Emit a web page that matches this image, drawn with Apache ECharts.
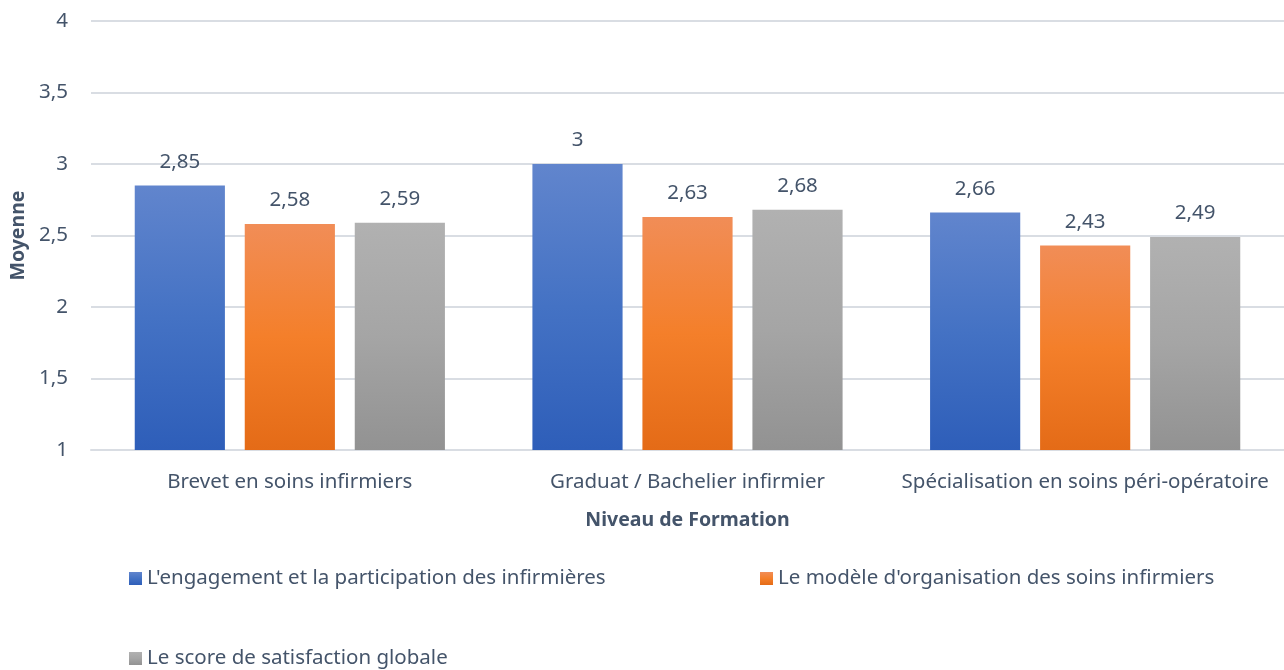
<!DOCTYPE html>
<html>
<head>
<meta charset="utf-8">
<script src="https://cdn.jsdelivr.net/npm/echarts@6/dist/echarts.min.js"></script>
<style>
  html, body { margin: 0; padding: 0; background: #fff; }
  #chart { width: 1284px; height: 670px; }
</style>
</head>
<body>
<div id="chart"></div>
<script>
// Niveaux de formation (catégories de l'axe X)
const categories = [
  'Brevet en soins infirmiers',
  'Graduat / Bachelier infirmier',
  'Spécialisation en soins péri-opératoire'
];
const seriesNames = [
  "L'engagement et la participation des infirmières",
  "Le modèle d'organisation des soins infirmiers",
  'Le score de satisfaction globale'
];
// Moyennes par série
const engagement = [2.85, 3, 2.66];
const organisation = [2.58, 2.63, 2.43];
const satisfaction = [2.59, 2.68, 2.49];

const textColor = '#44546A';
const font = 'Noto Sans';
const fs = 20.5;

function grad(top, mid, bottom) {
  return new echarts.graphic.LinearGradient(0, 0, 0, 1, [
    { offset: 0, color: top },
    { offset: 0.5, color: mid },
    { offset: 1, color: bottom }
  ]);
}
const colors = [
  grad('#6185CD', '#4472C4', '#2E5EB9'),
  grad('#F18D57', '#F47F2A', '#E46B17'),
  grad('#B1B1B1', '#A5A5A5', '#929292')
];

const fmt = v => String(v).replace('.', ',');

function barSeries(name, data, color) {
  return {
    name: name,
    type: 'bar',
    data: data,
    itemStyle: { color: color },
    barGap: '22%',
    barCategoryGap: '22%',
    label: {
      show: true,
      position: 'top',
      distance: 13,
      color: textColor,
      fontFamily: font,
      fontSize: fs,
      formatter: p => fmt(p.value)
    }
  };
}

const legendBase = {
  orient: 'horizontal',
  icon: 'rect',
  itemWidth: 13,
  itemHeight: 13,
  itemGap: 6,
  textStyle: { color: textColor, fontFamily: font, fontSize: fs }
};

const chart = echarts.init(document.getElementById('chart'), null, { renderer: 'canvas' });
chart.setOption({
  backgroundColor: '#ffffff',
  animation: false,
  grid: { left: 91, right: 0, top: 21, bottom: 220, containLabel: false },
  legend: [
    Object.assign({}, legendBase, { data: [seriesNames[0]], left: 124, top: 563 }),
    Object.assign({}, legendBase, { data: [seriesNames[1]], left: 755, top: 563 }),
    Object.assign({}, legendBase, { data: [seriesNames[2]], left: 124, top: 643 })
  ],
  xAxis: {
    type: 'category',
    data: categories,
    name: 'Niveau de Formation',
    nameLocation: 'middle',
    nameGap: 60,
    nameTextStyle: { color: textColor, fontFamily: font, fontSize: 19.5, fontWeight: 'bold' },
    axisLine: { show: true, lineStyle: { color: '#D9DDE3', width: 2 } },
    axisTick: { show: false },
    axisLabel: {
      color: textColor, fontFamily: font, fontSize: fs, margin: 22,
      interval: 0, hideOverlap: false
    }
  },
  yAxis: {
    type: 'value',
    min: 1,
    max: 4,
    interval: 0.5,
    name: 'Moyenne',
    nameLocation: 'middle',
    nameGap: 62,
    nameRotate: 90,
    nameTextStyle: { color: textColor, fontFamily: font, fontSize: 19.5, fontWeight: 'bold' },
    axisLine: { show: false },
    axisTick: { show: false },
    splitLine: { lineStyle: { color: '#D9DDE3', width: 2 } },
    axisLabel: { color: textColor, fontFamily: font, fontSize: fs, margin: 23, formatter: v => fmt(v) }
  },
  series: [
    barSeries(seriesNames[0], engagement, colors[0]),
    barSeries(seriesNames[1], organisation, colors[1]),
    barSeries(seriesNames[2], satisfaction, colors[2])
  ]
});
</script>
</body>
</html>
